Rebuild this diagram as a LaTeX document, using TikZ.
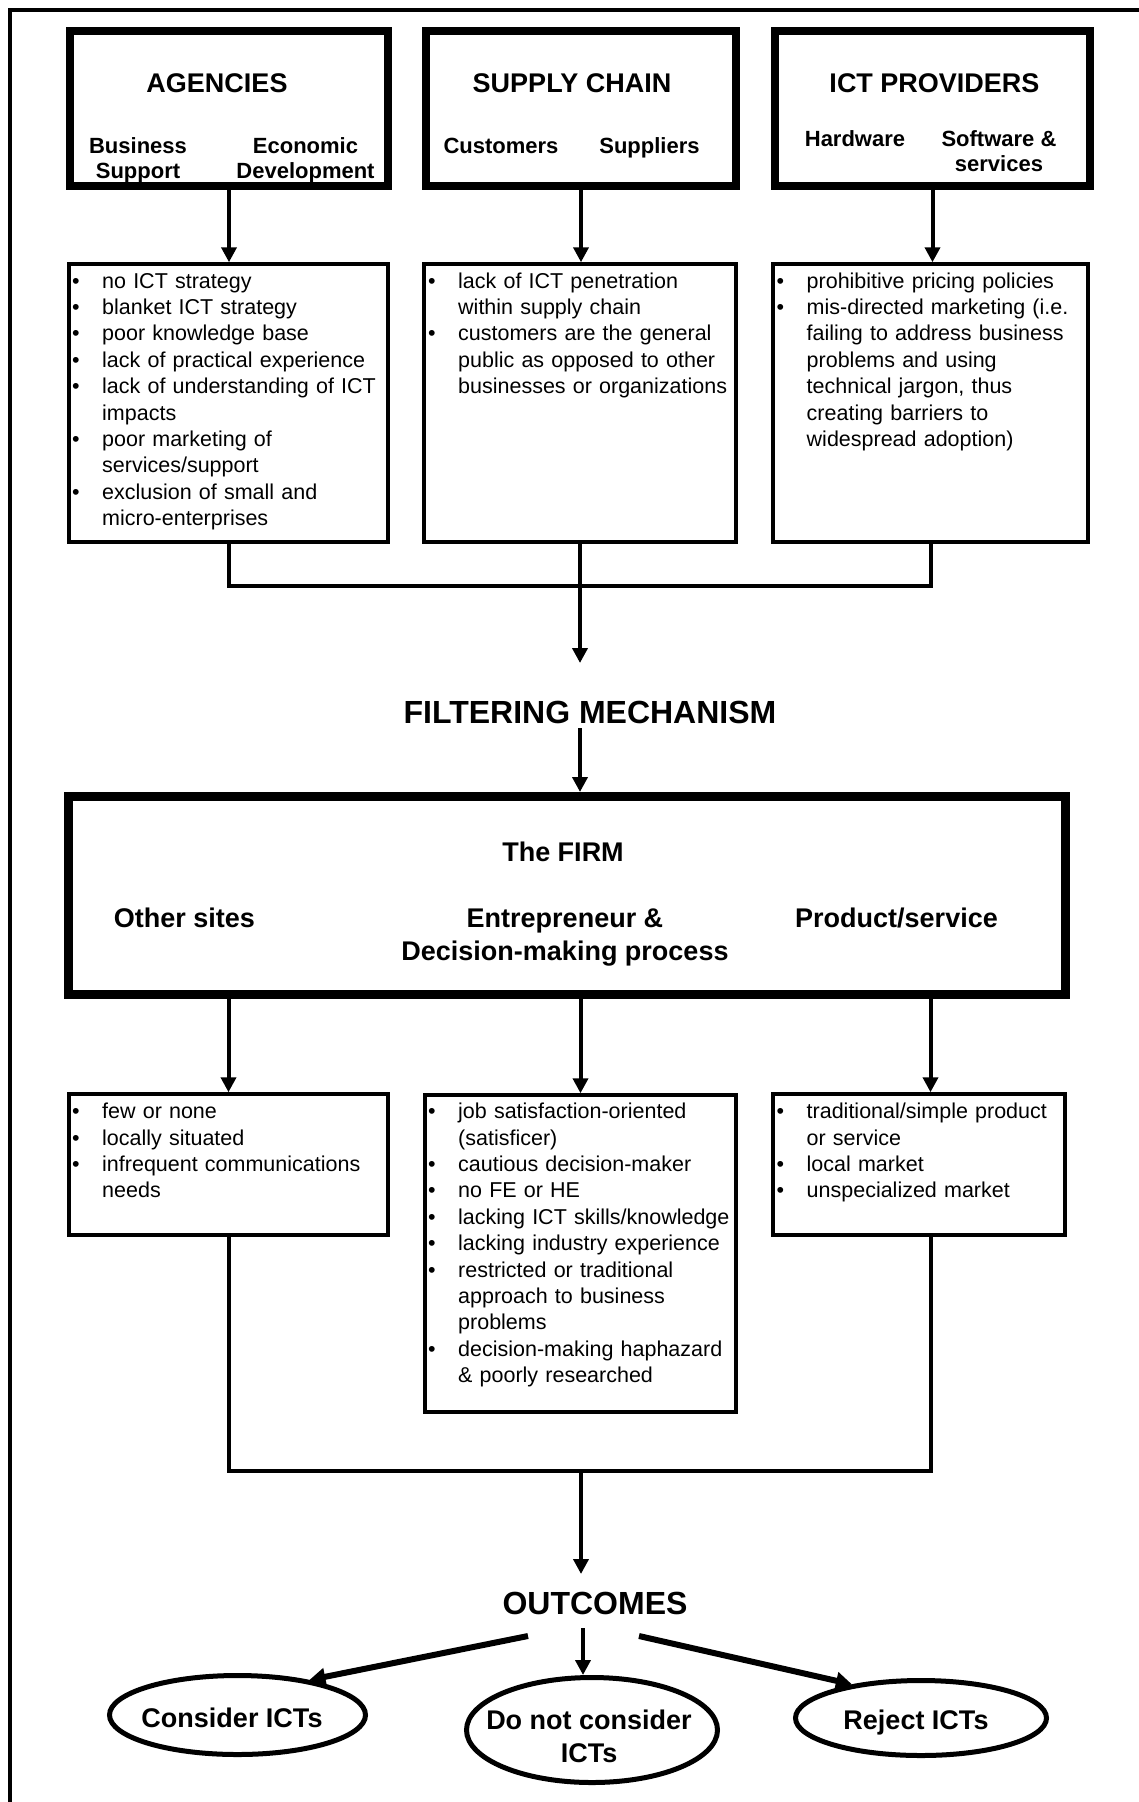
\documentclass[tikz,border=0pt]{standalone}
\usepackage{fontspec}
\setmainfont{Liberation Sans}
\usetikzlibrary{arrows.meta,shapes.geometric}
\newcommand\bitem[1]{\par\noindent\hangindent=30pt\hangafter=1\makebox[30pt][l]{\textbullet}\strut#1}
\tikzset{
  hbox/.style={draw, line width=8pt, inner sep=0pt},
  lbox/.style={draw, line width=3.5pt, inner sep=0pt},
  fbox/.style={draw, line width=9pt, inner sep=0pt},
  ttl/.style={font=\fontsize{27}{33}\selectfont\bfseries, inner sep=0pt, align=center},
  subh/.style={font=\fontsize{22}{25}\selectfont\bfseries, inner sep=0pt, align=center},
  big/.style={font=\fontsize{32}{38}\selectfont\bfseries, inner sep=0pt},
  lst/.style={font=\fontsize{21.5}{26.4}\selectfont, inner sep=0pt, text width=330pt, align=left, anchor=north west},
  conn/.style={line width=4pt},
  arr/.style={conn, -{Triangle[length=15pt,width=15pt]}},
  thickarr/.style={line width=6pt, -{Triangle[length=16pt,width=17pt]}},
  oval/.style={ellipse, draw, line width=5pt, inner sep=0pt}
}
\begin{document}
\begin{tikzpicture}[x=1pt,y=-1pt]
\useasboundingbox (0,0) rectangle (1139,1802);
% frame
\draw[line width=4pt] (10,1802) -- (10,10) -- (1139,10);

% heading boxes
\node[hbox, minimum width=318pt, minimum height=155pt] (agB) at (229,108.5) {};
\node[hbox, minimum width=310pt, minimum height=155pt] (scB) at (581,108.5) {};
\node[hbox, minimum width=315pt, minimum height=155pt] (ipB) at (932.5,108.5) {};

\node[ttl, anchor=base] (agT) at (217,92.7) {AGENCIES};
\node[ttl, anchor=base] (scT) at (572,92.7) {SUPPLY CHAIN};
\node[ttl, anchor=base] (ipT) at (934.5,92.7) {ICT PROVIDERS};

\node[subh] (agS1) at (138,160.5) {\strut Business\\\strut Support};
\node[subh] (agS2) at (305.5,160.5) {\strut Economic\\\strut Development};
\node[subh, anchor=base] (scS1) at (501,153) {Customers};
\node[subh, anchor=base] (scS2) at (649.5,153) {Suppliers};
\node[subh, anchor=base] (ipS1) at (855,146) {Hardware};
\node[subh] (ipS2) at (999,153.5) {\strut Software \&\\\strut services};

% first lists
\node[lbox, minimum width=319pt, minimum height=278pt] (L1) at (228.5,403) {};
\node[lbox, minimum width=312pt, minimum height=278pt] (L2) at (580,403) {};
\node[lbox, minimum width=315pt, minimum height=278pt] (L3) at (930.5,403) {};

\node[lst] (L1t) at (72,261.5) {%
\bitem{no ICT strategy}
\bitem{blanket ICT strategy}
\bitem{poor knowledge base}
\bitem{lack of practical experience}
\bitem{lack of understanding of ICT\newline impacts}
\bitem{poor marketing of\newline services/support}
\bitem{exclusion of small and\newline micro-enterprises}\par};

\node[lst] (L2t) at (428,261.5) {%
\bitem{lack of ICT penetration\newline within supply chain}
\bitem{customers are the general\newline public as opposed to other\newline businesses or organizations}\par};

\node[lst] (L3t) at (776.5,261.5) {%
\bitem{prohibitive pricing policies}
\bitem{mis-directed marketing (i.e.\newline failing to address business\newline problems and using\newline technical jargon, thus\newline creating barriers to\newline widespread adoption)}\par};

\draw[arr] (agB.south) -- (agB.south |- L1.north);
\draw[arr] (scB.south) -- (scB.south |- L2.north);
\draw[arr] (ipB.south) -- (ipB.south |- L3.north);

\coordinate (J1) at (580,586);
\coordinate (A1e) at (580,663);
\draw[conn] (L1.south) |- (J1) -| (L3.south);
\draw[arr] (L2.south) -- (A1e);

\node[big, anchor=base] (FM) at (590,723) {FILTERING MECHANISM};

% firm
\node[fbox, minimum width=997pt, minimum height=198pt] (firm) at (567,895.5) {};
\coordinate (A2s) at (580,728);
\draw[arr] (A2s) -- (A2s |- firm.north);

\node[ttl, anchor=base] (firmT) at (563,861.7) {The FIRM};
\node[ttl, anchor=base] (firmA) at (184.5,927.7) {Other sites};
\node[ttl] (firmB) at (565,937.6) {\strut Entrepreneur \&\\\strut Decision-making process};
\node[ttl, anchor=base] (firmC) at (896.5,927.7) {Product/service};

% second lists
\node[lbox, minimum width=319pt, minimum height=141pt] (B1) at (228.5,1164.5) {};
\node[lbox, minimum width=311pt, minimum height=317pt] (B2) at (580.5,1253.5) {};
\node[lbox, minimum width=292pt, minimum height=141pt] (B3) at (919,1164.5) {};

\draw[arr] (firm.south -| B1.north) -- (B1.north);
\draw[arr] (firm.south -| B2.north) -- (B2.north);
\draw[arr] (firm.south -| L3.south) -- (B3.north -| L3.south);

\node[lst] (B1t) at (72,1092) {%
\bitem{few or none}
\bitem{locally situated}
\bitem{infrequent communications\newline needs}\par};

\node[lst] (B2t) at (428,1092) {%
\bitem{job satisfaction-oriented\newline (satisficer)}
\bitem{cautious decision-maker}
\bitem{no FE or HE}
\bitem{lacking ICT skills/knowledge}
\bitem{lacking industry experience}
\bitem{restricted or traditional\newline approach to business\newline problems}
\bitem{decision-making haphazard\newline \& poorly researched}\par};

\node[lst] (B3t) at (776.5,1092) {%
\bitem{traditional/simple product\newline or service}
\bitem{local market}
\bitem{unspecialized market}\par};

\coordinate (J2) at (581,1471);
\coordinate (A3e) at (581,1574);
\draw[conn] (B1.south) |- (J2) -| (B3.south -| L3.south);
\draw[arr] (J2) -- (A3e);

\node[big, anchor=base] (OUT) at (595,1614.5) {OUTCOMES};

% outcomes
\node[oval, minimum width=256pt, minimum height=79pt] (cons) at (237.5,1715) {};
\node[oval, minimum width=251pt, minimum height=105pt] (dnc) at (592,1730) {};
\node[oval, minimum width=251pt, minimum height=75pt] (rej) at (921,1718) {};

\node[ttl, anchor=base] (consT) at (232,1727.7) {Consider ICTs};
\node[ttl] (dncT) at (589,1739.6) {\strut Do not consider\\\strut ICTs};
\node[ttl, anchor=base] (rejT) at (916,1729) {Reject ICTs};

\coordinate (oLs) at (528,1636);
\coordinate (oMs) at (583,1628);
\coordinate (oRs) at (639,1636);
\draw[thickarr] (oLs) -- (cons.26);
\draw[arr] (oMs) -- (oMs |- dnc.north);
\draw[thickarr] (oRs) -- (rej.154);
\end{tikzpicture}
\end{document}
